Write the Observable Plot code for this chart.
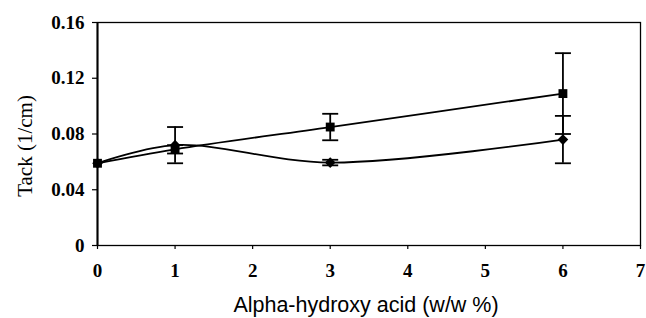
<!DOCTYPE html>
<html>
<head>
<meta charset="utf-8">
<script src="https://cdn.jsdelivr.net/npm/d3@7"></script>
<script src="https://cdn.jsdelivr.net/npm/@observablehq/plot@0.6"></script>
<style>
  html, body { margin: 0; padding: 0; background: #fff; }
  #chart svg { display: block; }
</style>
</head>
<body>
<div id="chart"></div>
<script>
const concentrations = [0, 1, 3, 6];
const squareValues = [0.059, 0.069, 0.085, 0.109];
const squareErrors = [0, 0.003, 0.0095, 0.029];
const diamondValues = [0.059, 0.072, 0.0595, 0.076];
const diamondErrors = [0, 0.013, 0.002, 0.017];
const xTicks = [0, 1, 2, 3, 4, 5, 6, 7];
const yTicks = [0, 0.04, 0.08, 0.12, 0.16];
const yTickLabels = ["0", "0.04", "0.08", "0.12", "0.16"];

const rows = [];
concentrations.forEach((c, i) => {
  rows.push({series: "square", x: c, y: squareValues[i], e: squareErrors[i]});
  rows.push({series: "diamond", x: c, y: diamondValues[i], e: diamondErrors[i]});
});
const errRows = rows.filter(d => d.e > 0);
const capRows = errRows.flatMap(d => [{x: d.x, y: d.y - d.e}, {x: d.x, y: d.y + d.e}]);

const capSymbol = {
  draw(context, size) {
    const w = 8;
    context.moveTo(-w, 0);
    context.lineTo(w, 0);
  }
};

const serif = "'Liberation Serif', 'Times New Roman', serif";

const chart = Plot.plot({
  width: 646,
  height: 318,
  marginLeft: 97,
  marginRight: 6,
  marginTop: 22,
  marginBottom: 73,
  style: {fontFamily: serif, fontSize: "19px", color: "#000", background: "#fff"},
  x: {domain: [0, 7], label: null},
  y: {domain: [0, 0.16], label: null},
  marks: [
    Plot.axisX({ticks: xTicks, tickSize: 4, tickPadding: 14, tickFormat: d => String(d), stroke: "#000", strokeWidth: 1.2, fontSize: 19, fontWeight: "bold", fontFamily: serif, fill: "#000"}),
    Plot.axisY({ticks: yTicks, tickSize: 5, tickPadding: 8, tickFormat: d => yTickLabels[yTicks.indexOf(d)], stroke: "#000", strokeWidth: 1.2, fontSize: 19, fontWeight: "bold", fontFamily: serif, fill: "#000"}),
    Plot.frame({stroke: "#000", strokeWidth: 1.3}),
    Plot.ruleX([0], {stroke: "#000", strokeWidth: 2}),
    Plot.line(rows, {x: "x", y: "y", z: "series", curve: "catmull-rom", stroke: "#000", strokeWidth: 1.8}),
    Plot.ruleX(errRows, {x: "x", y1: d => d.y - d.e, y2: d => d.y + d.e, stroke: "#000", strokeWidth: 1.8}),
    Plot.dot(capRows, {x: "x", y: "y", symbol: capSymbol, stroke: "#000", strokeWidth: 1.8, fill: "none", r: 8}),
    Plot.dot(rows.filter(d => d.series === "square"), {x: "x", y: "y", symbol: "square", r: 5, fill: "#000", stroke: "none"}),
    Plot.dot(rows.filter(d => d.series === "diamond"), {x: "x", y: "y", symbol: "diamond2", r: 4.8, fill: "#000", stroke: "none"}),
    Plot.text(["Tack (1/cm)"], {frameAnchor: "left", textAnchor: "middle", dx: -72, dy: 12, rotate: -90, fontSize: 21, fontFamily: serif, fill: "#000"}),
    Plot.text(["Alpha-hydroxy acid (w/w %)"], {frameAnchor: "bottom", dy: 66, dx: -3, fontSize: 21.5, fontFamily: "'Liberation Sans', Arial, sans-serif", fill: "#000"})
  ]
});
document.getElementById("chart").appendChild(chart);
</script>
</body>
</html>
